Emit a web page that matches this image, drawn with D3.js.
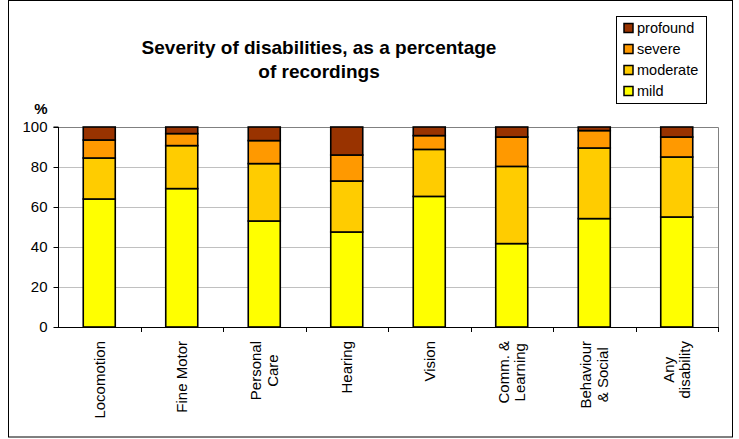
<!DOCTYPE html>
<html>
<head>
<meta charset="utf-8">
<script src="https://cdn.jsdelivr.net/npm/d3@7"></script>
<style>
  body { margin: 0; background: #fff; }
  svg { display: block; font-family: "Liberation Sans", Arial, sans-serif; }
</style>
</head>
<body>
<svg id="chart" width="739" height="439"></svg>
<script>
const categories = [["Locomotion"], ["Fine Motor"], ["Personal", "Care"], ["Hearing"], ["Vision"], ["Comm. &", "Learning"], ["Behaviour", "& Social"], ["Any", "disability"]];
const seriesNames = ["mild", "moderate", "severe", "profound"];
const mild     = [64.0, 69.2, 53.0, 47.5, 65.3, 41.7, 54.2, 55.0];
const moderate = [20.5, 21.5, 28.7, 25.5, 23.5, 38.6, 35.3, 30.0];
const severe   = [9.0, 6.0, 11.5, 13.0, 6.9, 14.7, 8.7, 10.0];
const profound = [6.5, 3.3, 6.8, 14.0, 4.3, 5.0, 1.8, 5.0];
const yTicks = [0, 20, 40, 60, 80, 100];
const colors = { mild: "#FFFF00", moderate: "#FFCC00", severe: "#FF9900", profound: "#993300" };
const titleLines = ["Severity of disabilities, as a percentage", "of recordings"];

const svg = d3.select("#chart");
const plot = { left: 58, right: 718, top: 127, bottom: 327 };

// outer border
svg.append("rect").attr("x", 8.5).attr("y", 0.5).attr("width", 724).attr("height", 436.5)
  .attr("fill", "#fff").attr("stroke", "#000").attr("stroke-width", 1);

const keys = categories.map((c, i) => i);
const x = d3.scaleBand().domain(keys).range([plot.left, plot.right]).paddingInner(0.612).paddingOuter(0.306);
const y = d3.scaleLinear().domain([0, 100]).range([plot.bottom, plot.top]);

// gridlines
svg.append("g").selectAll("line").data(yTicks.filter(t => t > 0)).join("line")
  .attr("x1", plot.left).attr("x2", plot.right)
  .attr("y1", d => Math.round(y(d)) + 0.5).attr("y2", d => Math.round(y(d)) + 0.5)
  .attr("stroke", "#c0c0c0").attr("stroke-width", 1);

// plot area border (top/right)
svg.append("path")
  .attr("d", `M${plot.left},${plot.top + 0.5}H${plot.right + 0.5}V${plot.bottom}`)
  .attr("fill", "none").attr("stroke", "#808080").attr("stroke-width", 1);

// stacked data
const table = keys.map(i => ({ i, mild: mild[i], moderate: moderate[i], severe: severe[i], profound: profound[i] }));
const stack = d3.stack().keys(seriesNames)(table);

svg.append("g").selectAll("g").data(stack).join("g")
  .attr("fill", d => colors[d.key])
  .selectAll("rect").data(d => d).join("rect")
  .attr("x", d => x(d.data.i))
  .attr("width", x.bandwidth())
  .attr("y", d => y(d[1]))
  .attr("height", d => y(d[0]) - y(d[1]))
  .attr("stroke", "#000").attr("stroke-width", 1.6);

// y axis
const yAxis = d3.axisLeft(y).tickValues(yTicks).tickSize(5).tickPadding(6).tickFormat(d3.format("d"));
const gy = svg.append("g").attr("transform", `translate(${plot.left + 0.5},0)`).call(yAxis);
gy.select(".domain").attr("stroke", "#000").attr("d", `M-5,${plot.top}H0V${plot.bottom}`);
gy.selectAll(".tick line").attr("stroke", "#000");
gy.selectAll(".tick text").attr("font-size", 15).attr("fill", "#000").attr("font-family", "'Liberation Sans', Arial, sans-serif");

svg.append("text").attr("x", 41).attr("y", 114).attr("text-anchor", "middle")
  .attr("font-size", 15).attr("font-weight", "bold").text("%");

// x axis baseline and ticks at category boundaries
const step = x.step();
const bounds = d3.range(categories.length + 1).map(k => plot.left + k * step);
svg.append("line").attr("x1", plot.left).attr("x2", plot.right + 1)
  .attr("y1", plot.bottom + 0.5).attr("y2", plot.bottom + 0.5).attr("stroke", "#000");
svg.append("g").selectAll("line").data(bounds.slice(1)).join("line")
  .attr("x1", d => Math.round(d) + 0.5).attr("x2", d => Math.round(d) + 0.5)
  .attr("y1", plot.bottom).attr("y2", plot.bottom + 5).attr("stroke", "#000");

// x labels (rotated)
const labelTop = 341;
const lineH = 16.5;
categories.forEach((lines, i) => {
  const cx = x(i) + x.bandwidth() / 2;
  const g = svg.append("g").attr("transform", `translate(${cx},${labelTop}) rotate(-90)`);
  const texts = lines.map((t, j) => g.append("text").attr("font-size", 15).attr("fill", "#000").text(t));
  const widths = texts.map(t => t.node().getComputedTextLength());
  const maxW = d3.max(widths);
  const n = lines.length;
  texts.forEach((t, j) => {
    const off = (j - (n - 1) / 2) * lineH;
    t.attr("text-anchor", "middle").attr("x", -maxW / 2).attr("y", off).attr("dy", "0.35em");
  });
});

// title
svg.append("g").selectAll("text").data(titleLines).join("text")
  .attr("x", 319).attr("y", (d, i) => 54 + i * 24)
  .attr("text-anchor", "middle").attr("font-size", 19).attr("font-weight", "bold").text(d => d);

// legend
const legendItems = seriesNames.slice().reverse();
const lg = svg.append("g");
lg.append("rect").attr("x", 616.5).attr("y", 16.5).attr("width", 90).attr("height", 87)
  .attr("fill", "#fff").attr("stroke", "#000").attr("stroke-width", 1);
const li = lg.selectAll("g.item").data(legendItems).join("g").attr("class", "item")
  .attr("transform", (d, i) => `translate(0,${28 + i * 21})`);
li.append("rect").attr("x", 624).attr("y", -4.5).attr("width", 9).attr("height", 9)
  .attr("fill", d => colors[d]).attr("stroke", "#000").attr("stroke-width", 1.5);
li.append("text").attr("x", 637).attr("y", 0).attr("dy", "0.35em")
  .attr("font-size", 14.5).attr("fill", "#000").text(d => d);
</script>
</body>
</html>
